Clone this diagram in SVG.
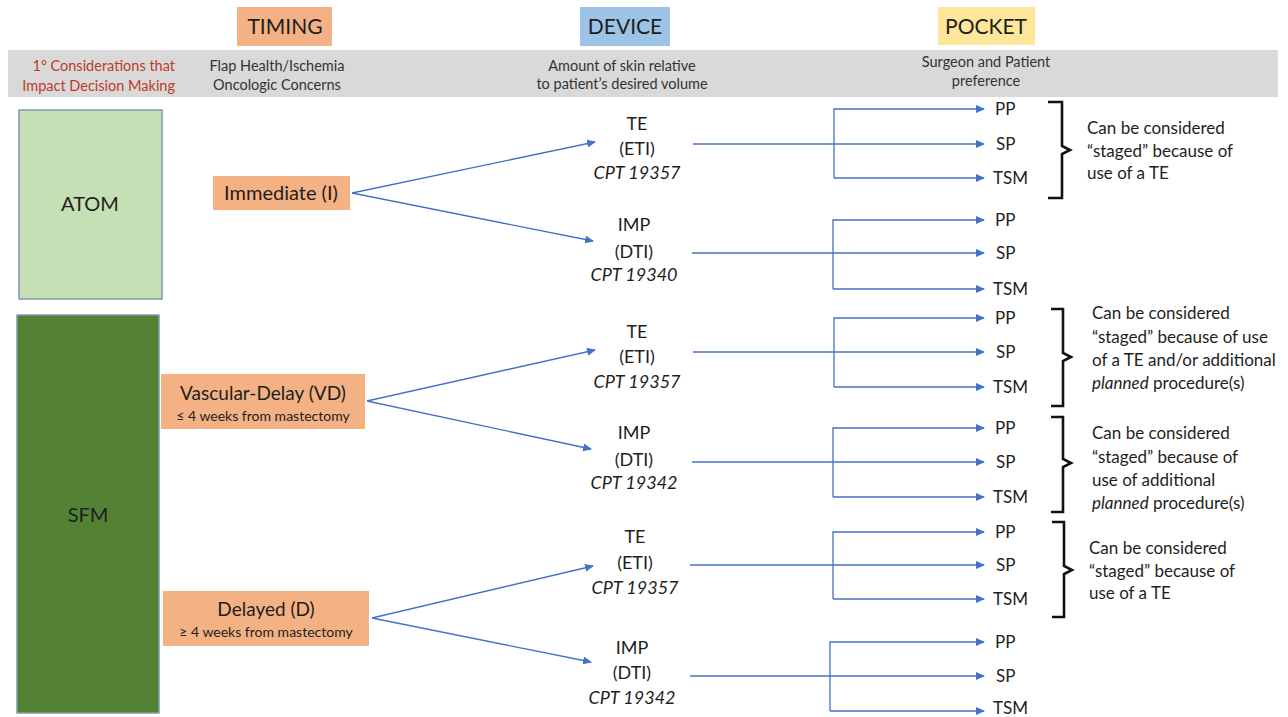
<svg xmlns="http://www.w3.org/2000/svg" width="1288" height="717" viewBox="0 0 1288 717">
<defs>
<marker id="ah" markerUnits="userSpaceOnUse" markerWidth="9" markerHeight="8" refX="8" refY="4" orient="auto">
<path d="M0,0 L9,4 L0,8 Z" fill="#4472C4"/>
</marker>
<style>
text{font-family:Lato,"Open Sans","Liberation Sans",sans-serif;fill:#1e1e1e}
.hd{font-size:21px;text-anchor:middle}
.bd{font-size:14.5px;text-anchor:middle;fill:#333}
.red{font-size:14.5px;text-anchor:end;fill:#C0392B}
.dev{font-size:18px;text-anchor:middle}
.it{font-style:italic}
.pk{font-size:17px}
.nt{font-size:17px}
.tm{text-anchor:middle}
.cn{fill:none;stroke:#4472C4;stroke-width:1.3}
.br{fill:none;stroke:#111;stroke-width:2.6}
</style>
</defs>
<rect width="1288" height="717" fill="#fff"/>
<g id="header">
<rect x="237" y="7" width="95" height="39" fill="#F4B183"/>
<text class="hd" x="285" y="34">TIMING</text>
<rect x="580" y="7" width="90" height="39" fill="#9DC3E6"/>
<text class="hd" x="625" y="34">DEVICE</text>
<rect x="938" y="7" width="97" height="38" fill="#FFE699"/>
<text class="hd" x="986" y="34">POCKET</text>
<rect x="8" y="50" width="1270" height="47" fill="#D9D9D9"/>
<text class="red" x="175" y="71">1º Considerations that</text>
<text class="red" x="175" y="91">Impact Decision Making</text>
<text class="bd" x="277" y="71">Flap Health/Ischemia</text>
<text class="bd" x="277" y="90">Oncologic Concerns</text>
<text class="bd" x="622" y="71">Amount  of skin relative</text>
<text class="bd" x="622" y="89">to patient’s desired volume</text>
<text class="bd" x="986" y="67">Surgeon and Patient</text>
<text class="bd" x="986" y="86">preference</text>
</g>
<g id="atom">
<rect x="19" y="110" width="143" height="189" fill="#C5E0B4" stroke="#8497B0" stroke-width="1.5"/>
<text class="tm" x="90" y="211" style="font-size:20px">ATOM</text>
</g>
<g id="sfm">
<rect x="17" y="315" width="142" height="398" fill="#548235" stroke="#8497B0" stroke-width="1.5"/>
<text class="tm" x="88" y="522" style="font-size:20px">SFM</text>
</g>
<g id="immediate">
<rect x="213" y="176" width="137" height="34" fill="#F4B183"/>
<text class="tm" x="281" y="200" style="font-size:20px">Immediate (I)</text>
</g>
<g id="vascular-delay">
<rect x="161" y="374" width="204" height="55" fill="#F4B183"/>
<text class="tm" x="263" y="400" style="font-size:19px">Vascular-Delay (VD)</text>
<text class="tm" x="263" y="421" style="font-size:14px">≤ 4 weeks from mastectomy</text>
</g>
<g id="delayed">
<rect x="163" y="591" width="206" height="55" fill="#F4B183"/>
<text class="tm" x="266" y="616" style="font-size:19px">Delayed (D)</text>
<text class="tm" x="266" y="637" style="font-size:14px">≥ 4 weeks from mastectomy</text>
</g>
<g id="te1">
<text class="dev" x="637" y="130">TE</text>
<text class="dev" x="637" y="155">(ETI)</text>
<text class="dev it" x="637" y="179">CPT 19357</text>
</g>
<g id="imp1">
<text class="dev" x="634" y="231">IMP</text>
<text class="dev" x="634" y="258">(DTI)</text>
<text class="dev it" x="634" y="281">CPT 19340</text>
</g>
<g id="te2">
<text class="dev" x="637" y="338">TE</text>
<text class="dev" x="637" y="363">(ETI)</text>
<text class="dev it" x="637" y="388">CPT 19357</text>
</g>
<g id="imp2">
<text class="dev" x="634" y="439">IMP</text>
<text class="dev" x="634" y="466">(DTI)</text>
<text class="dev it" x="634" y="489">CPT 19342</text>
</g>
<g id="te3">
<text class="dev" x="635" y="543">TE</text>
<text class="dev" x="635" y="569">(ETI)</text>
<text class="dev it" x="635" y="594">CPT 19357</text>
</g>
<g id="imp3">
<text class="dev" x="632" y="654">IMP</text>
<text class="dev" x="632" y="679">(DTI)</text>
<text class="dev it" x="632" y="704">CPT 19342</text>
</g>
<g id="pockets">
<text class="pk" x="995" y="115">PP</text>
<text class="pk" x="996" y="150">SP</text>
<text class="pk" x="993" y="184">TSM</text>
<text class="pk" x="995" y="226">PP</text>
<text class="pk" x="996" y="259">SP</text>
<text class="pk" x="993" y="295">TSM</text>
<text class="pk" x="995" y="324">PP</text>
<text class="pk" x="996" y="358">SP</text>
<text class="pk" x="993" y="393">TSM</text>
<text class="pk" x="995" y="434">PP</text>
<text class="pk" x="996" y="468">SP</text>
<text class="pk" x="993" y="503">TSM</text>
<text class="pk" x="995" y="538">PP</text>
<text class="pk" x="996" y="571">SP</text>
<text class="pk" x="993" y="605">TSM</text>
<text class="pk" x="995" y="648">PP</text>
<text class="pk" x="996" y="682">SP</text>
<text class="pk" x="993" y="714">TSM</text>
</g>
<g id="notes">
<path class="br" d="M1048,102 H1062 V146 L1070,150 L1062,154 V198 H1048"/>
<text class="nt" x="1087" y="134">Can be considered</text>
<text class="nt" x="1087" y="157">“staged” because of</text>
<text class="nt" x="1087" y="179">use of a TE</text>
<path class="br" d="M1051,309 H1063 V353 L1071,357 L1063,361 V406 H1051"/>
<text class="nt" x="1092" y="319">Can be considered</text>
<text class="nt" x="1092" y="343">“staged” because of use</text>
<text class="nt" x="1092" y="366">of a TE and/or additional</text>
<text class="nt" x="1092" y="389"><tspan font-style="italic">planned</tspan> procedure(s)</text>
<path class="br" d="M1051,417 H1063 V459 L1071,463 L1063,467 V512 H1051"/>
<text class="nt" x="1092" y="439">Can be considered</text>
<text class="nt" x="1092" y="463">“staged” because of</text>
<text class="nt" x="1092" y="486">use of additional</text>
<text class="nt" x="1092" y="509"><tspan font-style="italic">planned</tspan> procedure(s)</text>
<path class="br" d="M1052,522 H1064 V566 L1072,570 L1064,574 V617 H1052"/>
<text class="nt" x="1089" y="554">Can be considered</text>
<text class="nt" x="1089" y="577">“staged” because of</text>
<text class="nt" x="1089" y="599">use of a TE</text>
</g>
<g id="connectors">
<path class="cn" d="M352,193 L595,142" marker-end="url(#ah)"/>
<path class="cn" d="M352,193 L593,241" marker-end="url(#ah)"/>
<path class="cn" d="M367,401 L595,350" marker-end="url(#ah)"/>
<path class="cn" d="M367,401 L591,449" marker-end="url(#ah)"/>
<path class="cn" d="M372,618 L593,566" marker-end="url(#ah)"/>
<path class="cn" d="M372,618 L591,662" marker-end="url(#ah)"/>

<path class="cn" d="M693,144 H984" marker-end="url(#ah)"/>
<path class="cn" d="M834,178 V109 H984" marker-end="url(#ah)"/>
<path class="cn" d="M834,178 H984" marker-end="url(#ah)"/>

<path class="cn" d="M692,253 H984" marker-end="url(#ah)"/>
<path class="cn" d="M833,289 V220 H984" marker-end="url(#ah)"/>
<path class="cn" d="M833,289 H984" marker-end="url(#ah)"/>

<path class="cn" d="M693,352 H984" marker-end="url(#ah)"/>
<path class="cn" d="M834,387 V318 H984" marker-end="url(#ah)"/>
<path class="cn" d="M834,387 H984" marker-end="url(#ah)"/>

<path class="cn" d="M692,462 H984" marker-end="url(#ah)"/>
<path class="cn" d="M833,497 V428 H984" marker-end="url(#ah)"/>
<path class="cn" d="M833,497 H984" marker-end="url(#ah)"/>

<path class="cn" d="M690,565 H984" marker-end="url(#ah)"/>
<path class="cn" d="M833,599 V532 H984" marker-end="url(#ah)"/>
<path class="cn" d="M833,599 H984" marker-end="url(#ah)"/>

<path class="cn" d="M690,676 H984" marker-end="url(#ah)"/>
<path class="cn" d="M830,711 V642 H984" marker-end="url(#ah)"/>
<path class="cn" d="M830,711 H984" marker-end="url(#ah)"/>
</g>
</svg>
